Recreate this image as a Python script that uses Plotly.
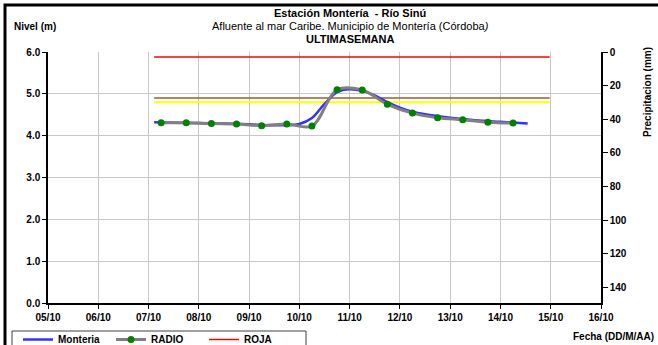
import plotly.graph_objects as go

# ---- data ----
dias = ["2012-10-05", "2012-10-06", "2012-10-07", "2012-10-08", "2012-10-09", "2012-10-10",
        "2012-10-11", "2012-10-12", "2012-10-13", "2012-10-14", "2012-10-15", "2012-10-16"]
etiquetas_dias = ["05/10", "06/10", "07/10", "08/10", "09/10", "10/10",
                  "11/10", "12/10", "13/10", "14/10", "15/10", "16/10"]

monteria_t = ["2012-10-07 02:40", "2012-10-07 12:00", "2012-10-08 00:00", "2012-10-08 12:00",
              "2012-10-09 00:00", "2012-10-09 12:00", "2012-10-10 00:00", "2012-10-10 06:00",
              "2012-10-10 12:00", "2012-10-10 18:00", "2012-10-11 00:00", "2012-10-11 06:00",
              "2012-10-11 12:00", "2012-10-11 18:00", "2012-10-12 00:00", "2012-10-12 06:00",
              "2012-10-12 12:00", "2012-10-13 00:00", "2012-10-13 12:00", "2012-10-14 00:00",
              "2012-10-14 13:00"]
monteria_nivel = [4.32, 4.31, 4.30, 4.29, 4.27, 4.25, 4.28, 4.42,
                  4.76, 5.04, 5.11, 5.07, 4.96, 4.80, 4.67, 4.57,
                  4.51, 4.43, 4.37, 4.33, 4.29]

radio_t = ["2012-10-07 06:00", "2012-10-07 18:00", "2012-10-08 06:00", "2012-10-08 18:00",
           "2012-10-09 06:00", "2012-10-09 18:00", "2012-10-10 06:00", "2012-10-10 18:00",
           "2012-10-11 06:00", "2012-10-11 18:00", "2012-10-12 06:00", "2012-10-12 18:00",
           "2012-10-13 06:00", "2012-10-13 18:00", "2012-10-14 06:00"]
radio_nivel = [4.31, 4.31, 4.29, 4.28, 4.24, 4.28, 4.23, 5.10,
               5.09, 4.75, 4.54, 4.43, 4.38, 4.32, 4.30]

umbral_t = ["2012-10-07 02:40", "2012-10-14 23:30"]
nivel_roja = [5.88, 5.88]
nivel_naranja = [4.90, 4.90]
nivel_amarilla = [4.80, 4.80]

nivel_ticks = [0, 1, 2, 3, 4, 5, 6]
nivel_etiquetas = ["0.0", "1.0", "2.0", "3.0", "4.0", "5.0", "6.0"]
precip_ticks = [0, 20, 40, 60, 80, 100, 120, 140]

FONT = "Liberation Sans, Arial, sans-serif"

fig = go.Figure()
fig.add_trace(go.Scatter(x=umbral_t, y=nivel_naranja, mode="lines",
                         line=dict(color="#9c5a36", width=1.5), showlegend=False, hoverinfo="skip"))
fig.add_trace(go.Scatter(x=umbral_t, y=nivel_amarilla, mode="lines",
                         line=dict(color="#ffff00", width=2), showlegend=False, hoverinfo="skip"))
fig.add_trace(go.Scatter(x=monteria_t, y=monteria_nivel, mode="lines", name="Monteria",
                         line=dict(color="#3333ff", width=2.5, shape="spline", smoothing=1)))
fig.add_trace(go.Scatter(x=radio_t, y=radio_nivel, mode="lines+markers", name="RADIO",
                         line=dict(color="#808080", width=3, shape="spline", smoothing=1),
                         marker=dict(color="#008000", size=7)))
fig.add_trace(go.Scatter(x=umbral_t, y=nivel_roja, mode="lines", name="ROJA",
                         line=dict(color="#ff0000", width=1.5)))
fig.add_trace(go.Scatter(x=[dias[0]], y=[None], yaxis="y2", showlegend=False, hoverinfo="skip"))

# layout geometry (pixels)
L, R, T, B = 48, 57, 52, 42
W, H = 658, 345
pw, ph = W - L - R, H - T - B

def px(xp):
    return (xp - L) / pw

def py(yp):
    return (H - B - yp) / ph

fig.update_layout(
    width=W, height=H,
    margin=dict(l=L, r=R, t=T, b=B, autoexpand=False),
    paper_bgcolor="white", plot_bgcolor="white",
    font=dict(family=FONT, size=10, color="black"),
    xaxis=dict(type="date", range=[dias[0], dias[-1]], tickvals=dias, ticktext=etiquetas_dias,
               showgrid=True, gridcolor="#c8c8c8", gridwidth=1,
               showline=True, linecolor="black", linewidth=1.5,
               ticks="outside", ticklen=4, tickcolor="black",
               tickfont=dict(family=FONT, size=10, weight="bold")),
    yaxis=dict(range=[0, 6], tickvals=nivel_ticks, ticktext=nivel_etiquetas,
               showgrid=True, gridcolor="#c8c8c8", gridwidth=1, zeroline=False,
               showline=True, linecolor="black", linewidth=1.5,
               ticks="outside", ticklen=4, tickcolor="black",
               tickfont=dict(family=FONT, size=10, weight="bold")),
    yaxis2=dict(overlaying="y", side="right", range=[149.4, 0], tickvals=precip_ticks,
                showgrid=False, zeroline=False,
                showline=True, linecolor="black", linewidth=1.5,
                ticks="outside", ticklen=5, tickcolor="black",
                tickfont=dict(family=FONT, size=10, weight="bold")),
    legend=dict(orientation="h", x=px(18), y=py(325), xanchor="left", yanchor="top",
                borderwidth=0, bgcolor="rgba(0,0,0,0)",
                font=dict(family=FONT, size=10, weight="bold"),
                itemwidth=30, entrywidth=48, entrywidthmode="pixels", tracegroupgap=0),
    showlegend=True,
)

ann = [
    dict(text="<b>Estación Montería  - Río Sinú</b>", x=px(350), y=py(13), size=11),
    dict(text="Afluente al mar Caribe. Municipio de Montería (Córdoba<i>)</i>", x=px(350), y=py(26), size=11),
    dict(text="<b>ULTIMASEMANA</b>", x=px(350), y=py(39), size=11),
]
for a in ann:
    fig.add_annotation(text=a["text"], x=a["x"], y=a["y"], xref="paper", yref="paper",
                       xanchor="center", yanchor="middle", showarrow=False,
                       font=dict(family=FONT, size=a["size"], color="black"))

fig.add_annotation(text="<b>Nivel (m)</b>", x=px(12), y=py(26), xref="paper", yref="paper",
                   xanchor="left", yanchor="middle", showarrow=False,
                   font=dict(family=FONT, size=10))
fig.add_annotation(text="<b>Precipitacion (mm)</b>", x=px(647), y=py(92), xref="paper", yref="paper",
                   xanchor="center", yanchor="middle", textangle=-90, showarrow=False,
                   font=dict(family=FONT, size=10))
fig.add_annotation(text="<b>Fecha (DD/M/AA)</b>", x=px(656), y=py(337), xref="paper", yref="paper",
                   xanchor="right", yanchor="middle", showarrow=False,
                   font=dict(family=FONT, size=10))

# legend box
fig.add_shape(type="rect", xref="paper", yref="paper",
              x0=px(12), x1=px(306), y0=py(360), y1=py(331),
              line=dict(color="#404040", width=1), layer="below")

# outer frame (top and left visible)
fig.add_shape(type="rect", xref="paper", yref="paper",
              x0=px(5), x1=px(700), y0=py(400), y1=py(5),
              line=dict(color="black", width=3), layer="above")

fig.write_html("out.html", config={"displayModeBar": False},
               post_script="document.body.style.margin='0';document.body.style.overflow='hidden';")
